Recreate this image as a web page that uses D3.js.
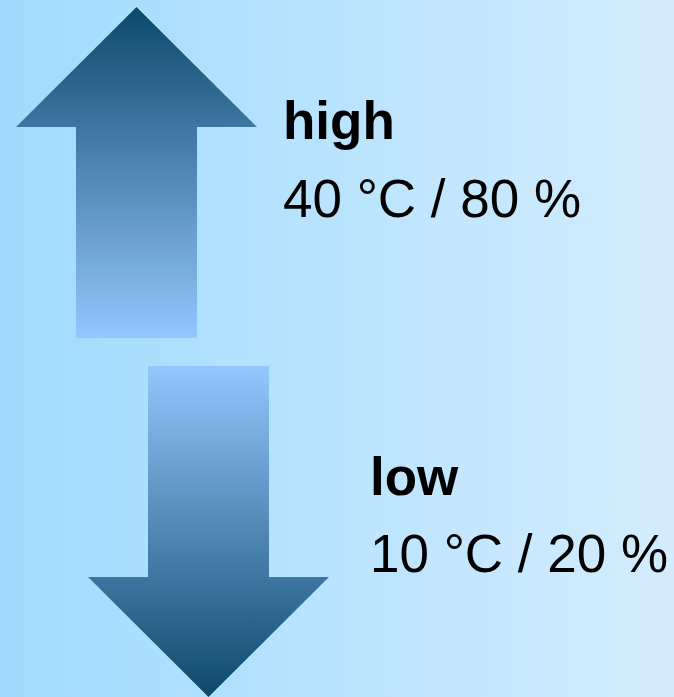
<!DOCTYPE html>
<html>
<head>
<meta charset="utf-8">
<script src="https://cdn.jsdelivr.net/npm/d3@7"></script>
<style>
  html, body { margin: 0; padding: 0; }
  svg { display: block; }
</style>
</head>
<body>
<div id="chart"></div>
<script>
// data
var categories = ["high", "low"];
var directions = ["up", "down"];
var temperatures = [40, 10];
var humidities = [80, 20];

var width = 674, height = 697;

var svg = d3.select("#chart").append("svg")
    .attr("width", width)
    .attr("height", height);

var defs = svg.append("defs");

// background gradient (left to right)
var bg = defs.append("linearGradient").attr("id", "bg")
    .attr("x1", 0).attr("y1", 0).attr("x2", 1).attr("y2", 0);
bg.append("stop").attr("offset", 0).attr("stop-color", "#9fdbfe");
bg.append("stop").attr("offset", 1).attr("stop-color", "#d4ecfd");

// arrow gradients: dark at the tip, light at the tail
var gUp = defs.append("linearGradient").attr("id", "grad-up")
    .attr("x1", 0).attr("y1", 0).attr("x2", 0).attr("y2", 1);
gUp.append("stop").attr("offset", 0).attr("stop-color", "#0c486c");
gUp.append("stop").attr("offset", 1).attr("stop-color", "#94c7fd");

var gDown = defs.append("linearGradient").attr("id", "grad-down")
    .attr("x1", 0).attr("y1", 0).attr("x2", 0).attr("y2", 1);
gDown.append("stop").attr("offset", 0).attr("stop-color", "#94c7fd");
gDown.append("stop").attr("offset", 1).attr("stop-color", "#0c486c");

svg.append("rect")
    .attr("width", width)
    .attr("height", height)
    .attr("fill", "url(#bg)");

// scales
var y = d3.scaleBand()
    .domain(categories)
    .range([7, 697])
    .paddingInner(0.078)
    .paddingOuter(0);

var xCenter = d3.scalePoint()
    .domain(categories)
    .range([136.5, 208.5]);

var xText = d3.scalePoint()
    .domain(categories)
    .range([283, 370]);

var headW = 241, shaftW = 121, headH = 120;

function arrowPath(cat, i) {
    var cx = xCenter(cat), top = y(cat), bot = top + y.bandwidth();
    var p = d3.path();
    if (directions[i] === "up") {
        p.moveTo(cx, top);
        p.lineTo(cx + headW / 2, top + headH);
        p.lineTo(cx + shaftW / 2, top + headH);
        p.lineTo(cx + shaftW / 2, bot);
        p.lineTo(cx - shaftW / 2, bot);
        p.lineTo(cx - shaftW / 2, top + headH);
        p.lineTo(cx - headW / 2, top + headH);
    } else {
        p.moveTo(cx, bot);
        p.lineTo(cx + headW / 2, bot - headH);
        p.lineTo(cx + shaftW / 2, bot - headH);
        p.lineTo(cx + shaftW / 2, top);
        p.lineTo(cx - shaftW / 2, top);
        p.lineTo(cx - shaftW / 2, bot - headH);
        p.lineTo(cx - headW / 2, bot - headH);
    }
    p.closePath();
    return p.toString();
}

var groups = svg.selectAll("g.item")
    .data(categories)
    .enter().append("g")
    .attr("class", "item");

groups.append("path")
    .attr("d", arrowPath)
    .attr("fill", function (d, i) { return "url(#grad-" + directions[i] + ")"; });

// label baselines relative to band top
var labelOffset = [132, 129];
var valueOffset = [210, 206];

groups.append("text")
    .attr("x", function (d) { return xText(d); })
    .attr("y", function (d, i) { return y(d) + labelOffset[i]; })
    .attr("font-family", "'Liberation Sans', Arial, sans-serif")
    .attr("font-size", 53)
    .attr("font-weight", "bold")
    .attr("fill", "#000")
    .text(function (d) { return d; });

groups.append("text")
    .attr("x", function (d) { return xText(d); })
    .attr("y", function (d, i) { return y(d) + valueOffset[i]; })
    .attr("font-family", "'Liberation Sans', Arial, sans-serif")
    .attr("font-size", 53)
    .attr("fill", "#000")
    .text(function (d, i) { return temperatures[i] + " °C / " + humidities[i] + " %"; });
</script>
</body>
</html>
